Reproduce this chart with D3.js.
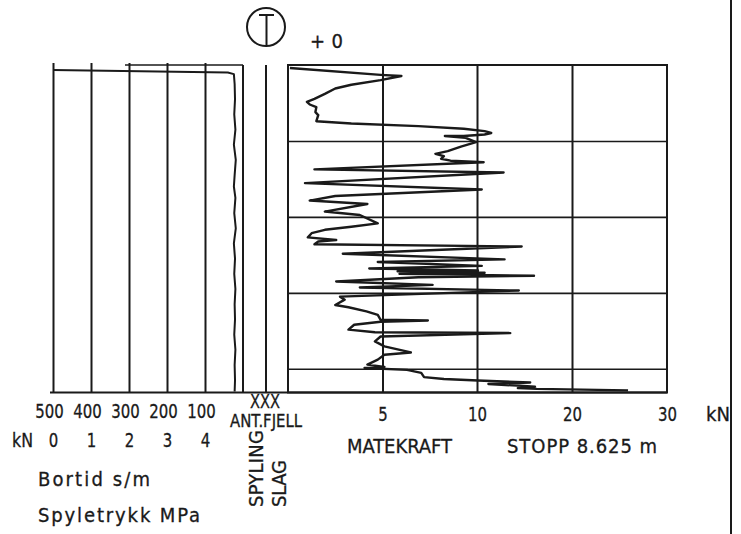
<!DOCTYPE html>
<html>
<head>
<meta charset="utf-8">
<script src="https://cdn.jsdelivr.net/npm/d3@7"></script>
<style>
  body { margin: 0; background: #fff; }
  text { font-family: "DejaVu Sans Condensed", "DejaVu Sans", sans-serif; fill: #1a1a1a; stroke: #1a1a1a; stroke-width: 0.3px; }
</style>
</head>
<body>
<div id="graph"></div>
<script>
// matekraft (kN) mot dybde (m)
const matDepth = [0.08, 0.26, 0.29, 0.40, 0.52, 0.62, 0.76, 0.89, 0.97, 1.04, 1.11, 1.24, 1.32, 1.48,
  1.54, 1.61, 1.68, 1.74, 1.79, 1.83, 1.87, 1.87, 1.92, 2.03, 2.15, 2.27, 2.34, 2.40, 2.47, 2.52,
  2.56, 2.75, 2.83, 3.11, 3.28, 3.45, 3.57, 3.66, 3.86, 3.95, 4.17, 4.26, 4.34, 4.43, 4.54, 4.61,
  4.65, 4.72, 4.78, 4.97, 5.12, 5.19, 5.29, 5.36, 5.41, 5.43, 5.47, 5.50, 5.55, 5.59, 5.70, 5.79,
  5.86, 5.94, 6.10, 6.18, 6.32, 6.38, 6.49, 6.58, 6.71, 6.73, 6.76, 6.84, 6.97, 7.04, 7.06, 7.15,
  7.28, 7.41, 7.57, 7.63, 7.76, 7.89, 7.95, 7.98, 8.03, 8.11, 8.22, 8.27, 8.31, 8.36, 8.40, 8.47,
  8.51, 8.53, 8.57];
const matForce = [0.1, 4.9, 6.0, 4.9, 3.35, 2.5, 1.95, 1.4, 1.0, 1.15, 1.5, 1.45, 1.6, 1.5,
  3.35, 6.9, 9.3, 10.8, 11.5, 10.8, 9.3, 8.3, 9.4, 9.95, 9.15, 8.45, 7.8, 8.25, 8.1, 8.6,
  10.7, 1.4, 12.8, 0.9, 10.5, 2.5, 1.15, 4.2, 1.95, 3.8, 4.75, 3.35, 1.95, 1.25, 1.05, 2.55,
  1.6, 1.4, 14.7, 2.9, 12.9, 4.75, 10.5, 4.3, 10.1, 5.8, 10.8, 5.9, 16.0, 6.9, 2.55, 7.65,
  3.8, 14.4, 2.75, 3.0, 2.5, 3.2, 4.15, 4.75, 4.9, 7.4, 4.9, 3.5, 3.2, 4.6, 13.5, 4.9,
  4.6, 5.1, 6.5, 5.1, 4.75, 4.2, 5.1, 4.05, 6.3, 7.05, 7.2, 8.25, 10.1, 15.6, 11.2, 16.1,
  14.3, 16.3, 25.9];

// bortid (s/m) mot dybde (m)
const bortDepth = [0.13, 0.20, 0.24, 0.5, 0.9, 1.3, 1.7, 2.1, 2.5, 2.9, 3.2, 3.5, 3.9, 4.3,
  4.7, 5.1, 5.5, 5.9, 6.3, 6.7, 7.1, 7.5, 7.9, 8.3, 8.6];
const bortTime = [500, 40, 24, 22, 21, 23, 20, 24, 19, 22, 24, 20, 23, 19,
  24, 21, 23, 20, 22, 21, 23, 20, 22, 21, 22];

const forceTicks = [5, 10, 20, 30];
const forceGrid = [5, 10, 20];
const bortTicks = [500, 400, 300, 200, 100];
const mpaTicks = [0, 1, 2, 3, 4];
const depthGrid = [2, 4, 6, 8];
const stopDepth = 8.625;

const width = 741, height = 534;
const ink = "#1a1a1a";

const svg = d3.select("#graph").append("svg")
    .attr("width", width)
    .attr("height", height);

const yDepth = d3.scaleLinear().domain([0, stopDepth]).range([65, 392.5]);
const xForce = d3.scaleLinear().domain([0, 10, 30]).range([288, 477, 667]);
const xBort = d3.scaleLinear().domain([500, 0]).range([53, 243]);
const xMPa = d3.scaleLinear().domain([0, 5]).range([53, 243]);

const yTop = yDepth(0), yBot = yDepth(stopDepth);

// høyre felt: ramme og rutenett
svg.append("rect")
    .attr("x", xForce(0)).attr("y", yTop)
    .attr("width", xForce(30) - xForce(0)).attr("height", yBot - yTop)
    .attr("fill", "none").attr("stroke", ink).attr("stroke-width", 2);

svg.append("g")
    .attr("transform", `translate(${xForce(0)},0)`)
    .call(d3.axisLeft(yDepth).tickValues(depthGrid).tickSize(-(xForce(30) - xForce(0))).tickFormat(""))
    .call(g => g.select(".domain").remove())
    .selectAll("line").attr("stroke", ink).attr("stroke-width", 1.6);

svg.append("g")
    .attr("transform", `translate(0,${yBot})`)
    .call(d3.axisBottom(xForce).tickValues(forceGrid).tickSize(-(yBot - yTop)).tickFormat(""))
    .call(g => g.select(".domain").remove())
    .selectAll("line").attr("stroke", ink).attr("stroke-width", 2);

// venstre felt
svg.append("g")
    .attr("transform", `translate(0,${yBot})`)
    .call(d3.axisBottom(xBort).tickValues(bortTicks).tickSize(-(yBot - yTop + 2)).tickFormat(""))
    .call(g => g.select(".domain").remove())
    .selectAll("line").attr("stroke", ink).attr("stroke-width", 2);

svg.append("line")
    .attr("x1", xBort(0)).attr("x2", xBort(0))
    .attr("y1", yTop).attr("y2", yBot)
    .attr("stroke", ink).attr("stroke-width", 2);
svg.append("line")
    .attr("x1", xBort(300) - 4).attr("x2", xBort(0))
    .attr("y1", yTop).attr("y2", yTop)
    .attr("stroke", ink).attr("stroke-width", 1.6);

// spyling/slag-kolonne
svg.append("line")
    .attr("x1", 266).attr("x2", 266)
    .attr("y1", yTop).attr("y2", yBot)
    .attr("stroke", ink).attr("stroke-width", 2);

// grunnlinje
svg.append("line")
    .attr("x1", xBort(500) - 3).attr("x2", xForce(30))
    .attr("y1", yBot).attr("y2", yBot)
    .attr("stroke", ink).attr("stroke-width", 2);

// høyre kantlinje
svg.append("line")
    .attr("x1", 731).attr("x2", 731)
    .attr("y1", 0).attr("y2", height)
    .attr("stroke", ink).attr("stroke-width", 2);

// kurver
const matData = matDepth.map((d, i) => ({ d: d, f: matForce[i] }));
const bortData = bortDepth.map((d, i) => ({ d: d, t: bortTime[i] }));

svg.append("path")
    .datum(matData)
    .attr("fill", "none").attr("stroke", ink)
    .attr("stroke-width", 2.4).attr("stroke-linejoin", "round")
    .attr("d", d3.line().x(d => xForce(d.f)).y(d => yDepth(d.d)));

svg.append("path")
    .datum(bortData)
    .attr("fill", "none").attr("stroke", ink)
    .attr("stroke-width", 2).attr("stroke-linejoin", "round")
    .attr("d", d3.line().x(d => xBort(d.t)).y(d => yDepth(d.d)));

// akseetiketter
const fs = 20;
function tickText(scale, ticks, y, dx) {
    const g = svg.append("g")
        .attr("transform", `translate(0,${y})`)
        .call(d3.axisBottom(scale).tickValues(ticks).tickSize(0).tickFormat(d3.format("d")));
    g.select(".domain").remove();
    g.selectAll("text")
        .attr("y", 0).attr("dy", 0).attr("dx", dx)
        .attr("font-family", null)
        .attr("font-size", fs).attr("fill", ink)
        .attr("textLength", d => String(d).length * 9.5)
        .attr("lengthAdjust", "spacingAndGlyphs");
}
tickText(xForce, forceTicks, 421, 0);
tickText(xBort, bortTicks, 418, -4);
tickText(xMPa, mpaTicks, 447, 0);

function label(txt, x, y, opts = {}) {
    const t = svg.append("text")
        .attr("x", x).attr("y", y)
        .attr("font-size", opts.size || fs)
        .attr("text-anchor", opts.anchor || "start")
        .text(txt);
    if (opts.len) t.attr("textLength", opts.len).attr("lengthAdjust", opts.adjust || "spacing");
    if (opts.rotate) t.attr("transform", `rotate(-90,${x},${y})`);
    return t;
}

const squeeze = "spacingAndGlyphs";
label("kN", 706, 421, { len: 24, adjust: squeeze });
label("MATEKRAFT", 347, 453, { len: 105 });
label("STOPP 8.625 m", 507, 453, { len: 150 });
label("kN", 12, 447, { len: 21, adjust: squeeze });
label("Bortid s/m", 38, 486, { len: 112 });
label("Spyletrykk MPa", 38, 522, { len: 162 });
label("XXX", 250, 408, { len: 30, size: 19, adjust: squeeze });
label("ANT.FJELL", 230, 427, { len: 72, size: 17, adjust: squeeze });
label("SPYLING", 263, 507, { len: 77, rotate: true });
label("SLAG", 286, 507, { len: 47, rotate: true });
label("+ 0", 310, 48, { len: 33 });

// T-symbol
svg.append("circle")
    .attr("cx", 266).attr("cy", 27).attr("r", 19)
    .attr("fill", "none").attr("stroke", ink).attr("stroke-width", 2);
svg.append("path")
    .attr("d", "M259,15 H274 M266.5,15 V46")
    .attr("fill", "none").attr("stroke", ink).attr("stroke-width", 2);
</script>
</body>
</html>
